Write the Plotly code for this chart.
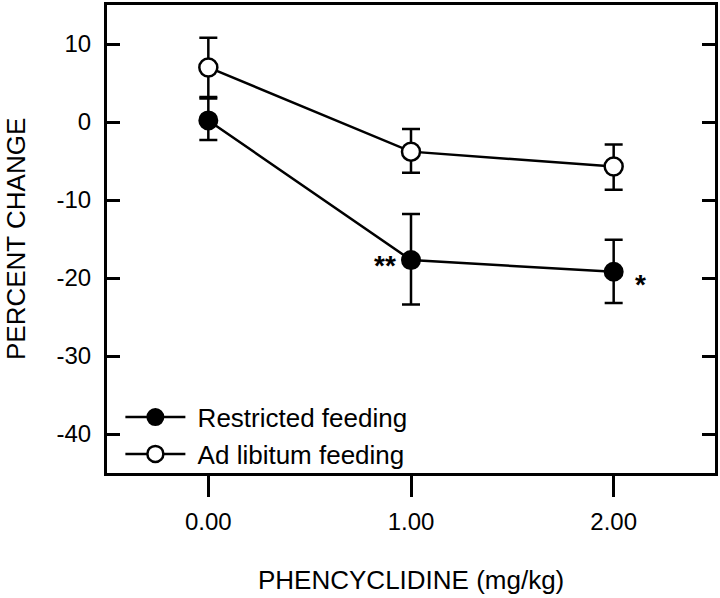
import plotly.graph_objects as go

# Data
doses = [0.0, 1.0, 2.0]
restricted_mean = [0.2, -17.7, -19.2]
restricted_err_plus = [2.8, 5.9, 4.1]
restricted_err_minus = [2.5, 5.7, 4.0]
adlib_mean = [7.0, -3.8, -5.7]
adlib_err_plus = [3.8, 2.9, 2.8]
adlib_err_minus = [3.8, 2.7, 3.0]

x_tick_vals = [0.0, 1.0, 2.0]
x_tick_text = ["0.00", "1.00", "2.00"]
y_tick_vals = [10, 0, -10, -20, -30, -40]
y_tick_text = ["10", "0", "-10", "-20", "-30", "-40"]

sig_x = [0.87, 2.13]
sig_y = [-17.9, -20.4]
sig_text = ["**", "*"]

FONT = "Arial, 'Liberation Sans', Helvetica, sans-serif"

fig = go.Figure()

fig.add_trace(go.Scatter(
    x=doses, y=restricted_mean, mode="lines+markers", name="\u00a0Restricted feeding",
    line=dict(color="black", width=2.5),
    marker=dict(symbol="circle", size=18, color="black", line=dict(color="black", width=2)),
    error_y=dict(type="data", array=restricted_err_plus, arrayminus=restricted_err_minus,
                 symmetric=False, color="black", thickness=2.5, width=9),
))
fig.add_trace(go.Scatter(
    x=doses, y=adlib_mean, mode="lines+markers", name="\u00a0Ad libitum feeding",
    line=dict(color="black", width=2.5),
    marker=dict(symbol="circle", size=18, color="white", line=dict(color="black", width=2.5)),
    error_y=dict(type="data", array=adlib_err_plus, arrayminus=adlib_err_minus,
                 symmetric=False, color="black", thickness=2.5, width=9),
))

for sx, sy, st in zip(sig_x, sig_y, sig_text):
    fig.add_annotation(x=sx, y=sy, text=f"<b>{st}</b>", showarrow=False,
                       font=dict(family=FONT, size=28, color="black"),
                       xanchor="center", yanchor="middle", yshift=-3.5)

fig.update_layout(
    width=720, height=598,
    margin=dict(l=107, r=5, t=5, b=125),
    paper_bgcolor="white", plot_bgcolor="white",
    font=dict(family=FONT, color="black", size=24),
    showlegend=True,
    legend=dict(x=0.022, y=-0.01, xanchor="left", yanchor="bottom",
                bgcolor="rgba(0,0,0,0)", font=dict(family=FONT, size=26, color="black"),
                itemwidth=60, tracegroupgap=0),
    xaxis=dict(range=[-0.5, 2.5], tickvals=x_tick_vals, ticktext=x_tick_text,
               showline=True, linecolor="black", linewidth=3, mirror=True,
               ticks="outside", ticklen=21, tickwidth=3, tickcolor="black",
               showgrid=False, zeroline=False, automargin=False,
               tickfont=dict(family=FONT, size=24, color="black"),
               ticklabelstandoff=4),
    yaxis=dict(range=[-45, 15], tickvals=y_tick_vals, ticktext=y_tick_text,
               showline=True, linecolor="black", linewidth=3, mirror="ticks",
               ticks="inside", ticklen=13, tickwidth=3, tickcolor="black",
               showgrid=False, zeroline=False, automargin=False,
               tickfont=dict(family=FONT, size=24, color="black"),
               ticklabelstandoff=8),
)

fig.add_annotation(text="PERCENT CHANGE", xref="paper", yref="paper",
                   x=(16 - 107) / 608, y=0.5, textangle=-90, showarrow=False,
                   xanchor="center", yanchor="middle",
                   font=dict(family=FONT, size=26, color="black"))
fig.add_annotation(text="PHENCYCLIDINE (mg/kg)", xref="paper", yref="paper",
                   x=0.5, y=-(580 - 473) / 468, showarrow=False,
                   xanchor="center", yanchor="middle",
                   font=dict(family=FONT, size=26, color="black"))

fig.write_html("out.html", config={"displayModeBar": False},
               post_script="document.body.style.margin='0';")
